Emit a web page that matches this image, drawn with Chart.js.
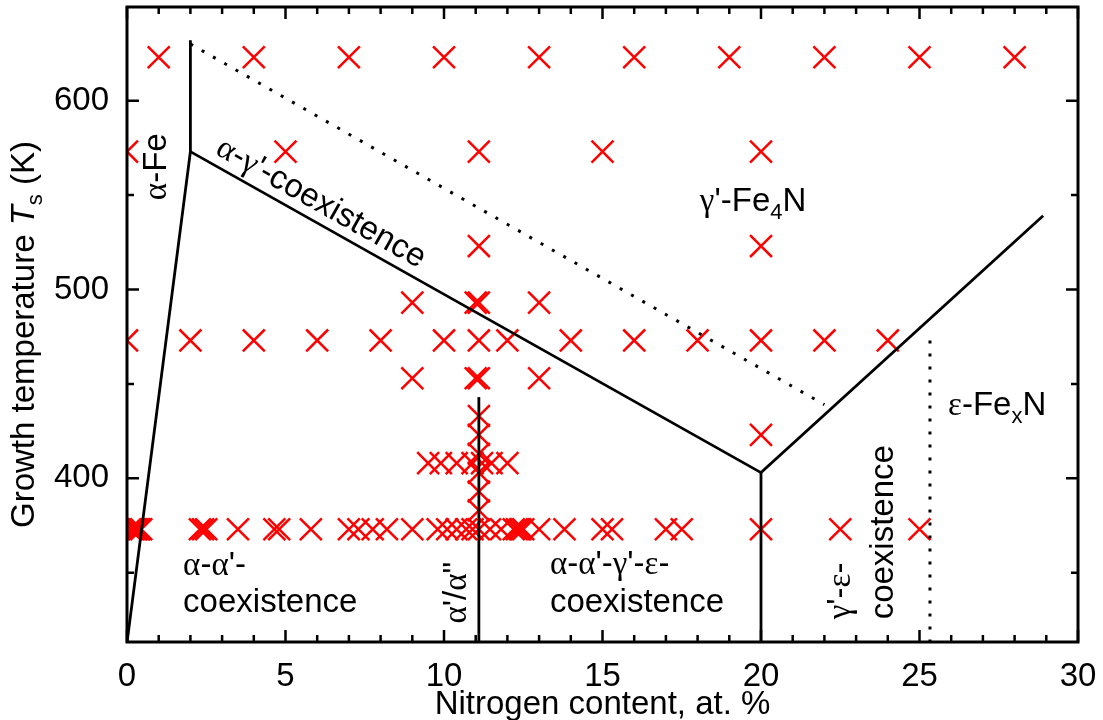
<!DOCTYPE html>
<html>
<head>
<meta charset="utf-8">
<script src="https://cdn.jsdelivr.net/npm/chart.js@4.4.0/dist/chart.umd.min.js"></script>
<style>
  html, body { margin: 0; padding: 0; background: #fff; }
  #wrap { width: 1103px; height: 720px; position: relative; }
</style>
</head>
<body>
<div id="wrap"><canvas id="phase-chart"></canvas></div>
<script>
(function () {
    "use strict";

    // nitrogen content (at. %) of the grown films, one list per growth temperature (K)
    var samples623 = [1, 4, 7, 10, 13, 16, 19, 22, 25, 28];
    var samples573 = [0, 5, 11.1, 15, 20];
    var samples523 = [11.1, 20];
    var samples493 = [9, 11, 11.1, 13];
    var samples473 = [0, 2, 4, 6, 8, 10, 11.1, 12, 14, 16, 18, 20, 22, 24];
    var samples453 = [9, 11, 11.1, 13];
    var samples423 = [20];
    var samples408 = [9.5, 9.9, 10.4, 10.9, 11.2, 11.5, 12];
    var samples373 = [0.1, 0.15, 0.2, 0.25, 0.3, 0.35, 0.4, 0.45, 2.3, 2.4, 2.5, 3.5,
        4.65, 4.8, 5.8, 7, 7.3, 7.75, 8.2, 9, 9.8, 10.1, 10.4, 10.7, 10.9, 11.1, 11.45,
        11.8, 12.2, 12.3, 12.4, 12.5, 13, 13.8, 15, 15.3, 17, 17.5, 20, 22.5, 25];
    // temperature series grown at 11.1 at. %
    var column111 = [383, 393, 403, 413, 423, 433];

    // phase boundaries, [at. %, K]
    var alphaFeLimit = [[0, 313], [2, 573], [2, 632]];
    var gammaLowerLimit = [[2, 573], [20, 403], [28.9, 539]];
    var line20 = [[20, 313], [20, 403]];
    var alphaPrimeLine = [[11.1, 313], [11.1, 443]];
    var gammaUpperLimit = [[2, 630], [22, 439]];
    var epsilonLimit = [[25.33, 313], [25.33, 475]];

    var xTicks = [0, 5, 10, 15, 20, 25, 30];
    var yTicks = [400, 500, 600];

    var SANS = '33px "Liberation Sans", Arial, sans-serif';
    var ITAL = 'italic 33px "Liberation Sans", Arial, sans-serif';
    var GREEK = '33px "Liberation Serif", "Times New Roman", serif';
    var SUB = '22px "Liberation Sans", Arial, sans-serif';

    var points = [];
    function addRow(list, t) {
        list.forEach(function (n) { points.push({ x: n, y: t }); });
    }
    addRow(samples623, 623);
    addRow(samples573, 573);
    addRow(samples523, 523);
    addRow(samples493, 493);
    addRow(samples473, 473);
    addRow(samples453, 453);
    addRow(samples423, 423);
    addRow(samples408, 408);
    addRow(samples373, 373);
    column111.forEach(function (t) { points.push({ x: 11.1, y: t }); });

    function toXY(arr) {
        return arr.map(function (p) { return { x: p[0], y: p[1] }; });
    }

    function boundary(arr, dotted) {
        return {
            data: toXY(arr),
            showLine: true,
            borderColor: "#000",
            borderWidth: dotted ? 3 : 2.8,
            borderDash: dotted ? [3, 10] : [],
            pointRadius: 0,
            fill: false,
            order: 0,
            clip: 0
        };
    }

    function drawRuns(ctx, runs, x, y, align, angle) {
        ctx.save();
        ctx.translate(x, y);
        ctx.rotate(angle || 0);
        var w = 0;
        runs.forEach(function (r) { ctx.font = r[1]; w += ctx.measureText(r[0]).width; });
        var cx = align === "center" ? -w / 2 : 0;
        ctx.textAlign = "left";
        ctx.textBaseline = "alphabetic";
        ctx.fillStyle = "#000";
        runs.forEach(function (r) {
            ctx.font = r[1];
            ctx.fillText(r[0], cx, r[2] || 0);
            cx += ctx.measureText(r[0]).width;
        });
        ctx.restore();
    }

    function noMargins(s) {
        s.paddingTop = 0;
        s.paddingBottom = 0;
        s.paddingLeft = 0;
        s.paddingRight = 0;
    }

    var frame = {
        id: "frame",
        afterDraw: function (chart) {
            var ctx = chart.ctx, a = chart.chartArea;
            var xs = chart.scales.x, ys = chart.scales.y;
            var v, p, len;
            ctx.save();
            ctx.strokeStyle = "#000";
            ctx.lineWidth = 2.5;
            ctx.beginPath();
            for (v = 0; v <= 30; v++) {
                p = xs.getPixelForValue(v);
                len = v % 5 === 0 ? 12 : 7;
                ctx.moveTo(p, a.bottom); ctx.lineTo(p, a.bottom - len);
                ctx.moveTo(p, a.top); ctx.lineTo(p, a.top + len);
            }
            for (v = 350; v < ys.max; v += 50) {
                p = ys.getPixelForValue(v);
                len = v % 100 === 0 ? 12 : 7;
                ctx.moveTo(a.left, p); ctx.lineTo(a.left + len, p);
                ctx.moveTo(a.right, p); ctx.lineTo(a.right - len, p);
            }
            ctx.stroke();
            ctx.lineWidth = 3;
            ctx.strokeRect(a.left, a.top, a.right - a.left, a.bottom - a.top);
            ctx.restore();

            // axis titles
            drawRuns(ctx, [["Nitrogen content, at. %", SANS]], (a.left + a.right) / 2, 714, "center");
            drawRuns(ctx, [["Growth temperature ", SANS], ["T", ITAL], ["s", SUB, 8], [" (K)", SANS]],
                34, (a.top + a.bottom) / 2 + 10, "center", -Math.PI / 2);

            // phase labels
            var X = function (n) { return xs.getPixelForValue(n); };
            var Y = function (t) { return ys.getPixelForValue(t); };
            var up = -Math.PI / 2;

            drawRuns(ctx, [["\u03b1", GREEK], ["-Fe", SANS]], X(1.22), Y(565), "center", up);

            var ang = Math.atan2(Y(403) - Y(573), X(20) - X(2));
            var sx = X(2.6), sy = Y(573) + (sx - X(2)) * Math.tan(ang);
            drawRuns(ctx, [["\u03b1", GREEK], ["-", SANS], ["\u03b3", GREEK], ["'-coexistence", SANS]],
                sx + 10 * Math.sin(ang), sy - 10 * Math.cos(ang), "left", ang);

            drawRuns(ctx, [["\u03b3", GREEK], ["'-Fe", SANS], ["4", SUB, 8], ["N", SANS]], X(19.75), Y(541.5), "center");
            drawRuns(ctx, [["\u03b5", GREEK], ["-Fe", SANS], ["x", SUB, 8], ["N", SANS]], X(25.9), Y(433.4), "left");

            drawRuns(ctx, [["\u03b1", GREEK], ["-", SANS], ["\u03b1", GREEK], ["'-", SANS]], X(1.77), Y(348.6), "left");
            drawRuns(ctx, [["coexistence", SANS]], X(1.77), Y(329), "left");

            drawRuns(ctx, [["\u03b1", GREEK], ["-", SANS], ["\u03b1", GREEK], ["'-", SANS], ["\u03b3", GREEK],
                ["'-", SANS], ["\u03b5", GREEK], ["-", SANS]], X(13.34), Y(349.1), "left");
            drawRuns(ctx, [["coexistence", SANS]], X(13.34), Y(329), "left");

            drawRuns(ctx, [["\u03b1", GREEK], ["'/", SANS], ["\u03b1", GREEK], ["\"", SANS]], X(10.69), Y(339.4), "center", up);
            drawRuns(ctx, [["\u03b3", GREEK], ["'-", SANS], ["\u03b5", GREEK], ["-", SANS]], X(22.8), Y(325.3), "left", up);
            drawRuns(ctx, [["coexistence", SANS]], X(24.16), Y(325.3), "left", up);
        }
    };

    var datasets = [
        boundary(alphaFeLimit, false),
        boundary(gammaLowerLimit, false),
        boundary(line20, false),
        boundary(alphaPrimeLine, false),
        boundary(gammaUpperLimit, true),
        boundary(epsilonLimit, true),
        {
            data: points,
            showLine: false,
            pointStyle: "crossRot",
            pointRadius: 15.5,
            pointBorderWidth: 2.5,
            borderColor: "#ff0000",
            backgroundColor: "#ff0000",
            order: 1,
            clip: 0
        }
    ];

    var ctxPhase = document.getElementById("phase-chart").getContext("2d");
    new Chart(ctxPhase, {
        type: "scatter",
        data: { datasets: datasets },
        options: {
            responsive: true,
            maintainAspectRatio: false,
            animation: false,
            layout: { autoPadding: false, padding: { top: 7, right: 25, left: 0, bottom: 0 } },
            plugins: { legend: { display: false }, tooltip: { enabled: false } },
            scales: {
                x: {
                    type: "linear",
                    min: 0,
                    max: 30,
                    grid: { display: false },
                    border: { display: false },
                    afterFit: function (s) { s.height = 78; noMargins(s); },
                    afterBuildTicks: function (s) { s.ticks = xTicks.map(function (v) { return { value: v }; }); },
                    ticks: { color: "#000", padding: 7, font: { family: "Liberation Sans", size: 33 } }
                },
                y: {
                    type: "linear",
                    min: 313.3,
                    max: 649.6,
                    grid: { display: false },
                    border: { display: false },
                    afterFit: function (s) { s.width = 127; noMargins(s); },
                    afterBuildTicks: function (s) { s.ticks = yTicks.map(function (v) { return { value: v }; }); },
                    ticks: { color: "#000", padding: 10, font: { family: "Liberation Sans", size: 33 } }
                }
            }
        },
        plugins: [frame]
    });
})();
</script>
</body>
</html>
